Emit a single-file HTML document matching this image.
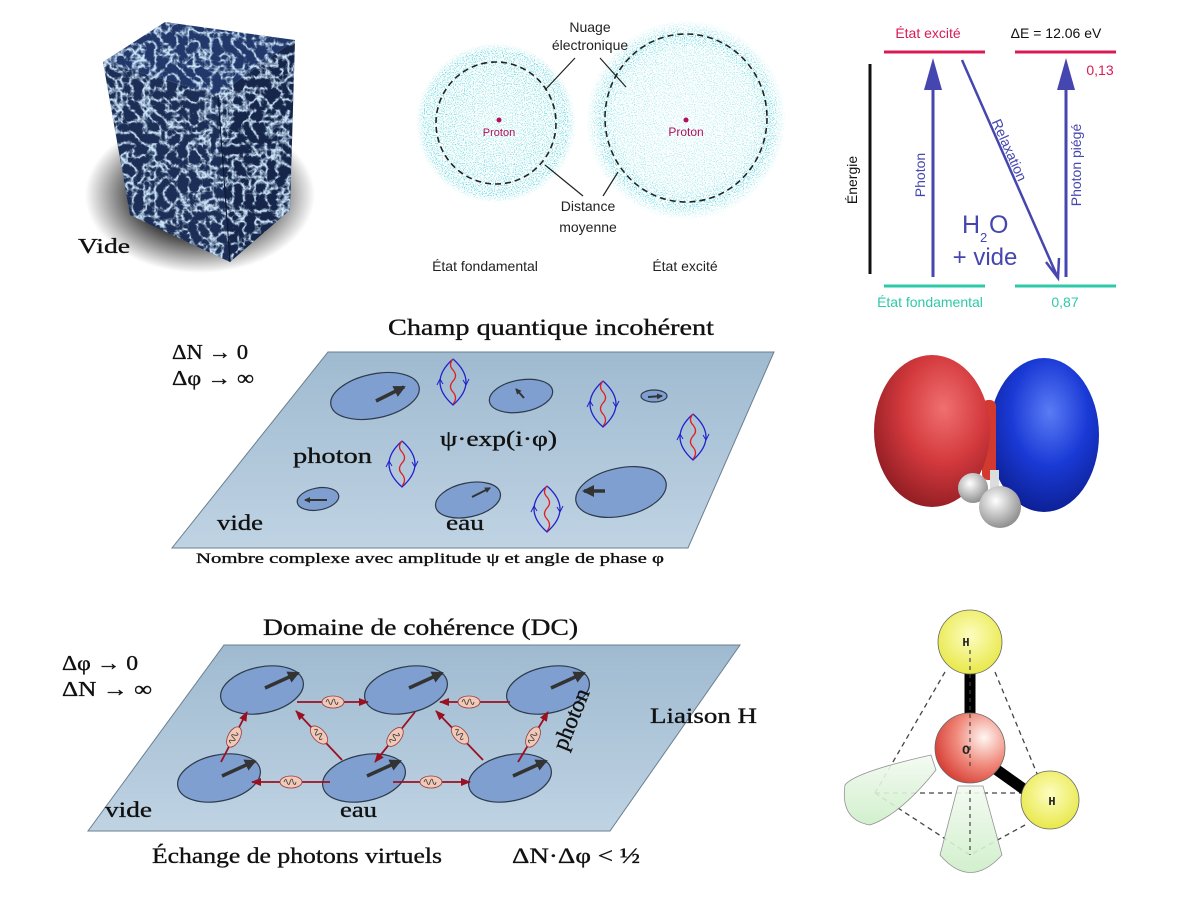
<!DOCTYPE html>
<html><head><meta charset="utf-8"><style>
html,body{margin:0;padding:0;background:#fff;}
svg{display:block;}
.s{font-family:"Liberation Serif","DejaVu Serif",serif;fill:#111;stroke:#111;stroke-width:0.35;}
.a{font-family:"Liberation Sans","DejaVu Sans",sans-serif;}
</style></head><body>
<svg width="1200" height="900" viewBox="0 0 1200 900" xmlns="http://www.w3.org/2000/svg">
<defs>
<filter id="noise" x="0" y="0" width="100%" height="100%">
 <feTurbulence type="turbulence" baseFrequency="0.09" numOctaves="3" seed="3"/>
 <feColorMatrix type="matrix" values="0 0 0 0 0.6  0 0 0 0 0.78  0 0 0 0 0.95  -4 0 0 0 1.3"/>
 <feComposite in2="SourceGraphic" operator="in"/>
</filter>
<filter id="speck" x="0" y="0" width="100%" height="100%">
 <feTurbulence type="fractalNoise" baseFrequency="0.9" numOctaves="1" seed="5"/>
 <feColorMatrix type="matrix" values="0 0 0 0 0.1  0 0 0 0 0.65  0 0 0 0 0.72  0 0 0 6 -3.0"/>
 <feComposite in2="SourceGraphic" operator="in"/>
</filter>
<radialGradient id="ringL" cx="0.5" cy="0.5" r="0.5">
 <stop offset="0" stop-color="#000" stop-opacity="0.5"/><stop offset="0.75" stop-color="#000" stop-opacity="0.8"/><stop offset="0.9" stop-color="#000" stop-opacity="0.9"/><stop offset="1" stop-color="#000" stop-opacity="0"/>
</radialGradient>
<radialGradient id="ringR" cx="0.5" cy="0.5" r="0.5">
 <stop offset="0" stop-color="#000" stop-opacity="0.35"/><stop offset="0.7" stop-color="#000" stop-opacity="0.5"/><stop offset="0.85" stop-color="#000" stop-opacity="1"/><stop offset="1" stop-color="#000" stop-opacity="0"/>
</radialGradient>
<radialGradient id="shadow" cx="0.5" cy="0.5" r="0.5">
 <stop offset="0.5" stop-color="#000"/><stop offset="1" stop-color="#000" stop-opacity="0"/>
</radialGradient>
<linearGradient id="plane" x1="0" y1="0" x2="0" y2="1">
 <stop offset="0" stop-color="#9fbad0"/><stop offset="1" stop-color="#bfd3e3"/>
</linearGradient>
<radialGradient id="red" cx="0.6" cy="0.35" r="0.7">
 <stop offset="0" stop-color="#f07070"/><stop offset="0.5" stop-color="#d43a3e"/><stop offset="1" stop-color="#8e1c22"/>
</radialGradient>
<radialGradient id="blue" cx="0.55" cy="0.35" r="0.7">
 <stop offset="0" stop-color="#5a7cf5"/><stop offset="0.5" stop-color="#1a3ad6"/><stop offset="1" stop-color="#0a1c8c"/>
</radialGradient>
<radialGradient id="white" cx="0.4" cy="0.35" r="0.7">
 <stop offset="0" stop-color="#fff"/><stop offset="1" stop-color="#888"/>
</radialGradient>
<radialGradient id="oxy" cx="0.7" cy="0.35" r="0.8">
 <stop offset="0" stop-color="#fff6f2"/><stop offset="0.5" stop-color="#f08a7c"/><stop offset="1" stop-color="#d3322a"/>
</radialGradient>
<radialGradient id="hyd" cx="0.5" cy="0.4" r="0.6">
 <stop offset="0" stop-color="#fdfdc0"/><stop offset="1" stop-color="#e8e84a"/>
</radialGradient>
<linearGradient id="cone" x1="0" y1="0" x2="0" y2="1">
 <stop offset="0" stop-color="#f4fbf2"/><stop offset="1" stop-color="#cdeec8"/>
</linearGradient>
<marker id="rh" markerWidth="10" markerHeight="8" refX="9" refY="4" orient="auto" markerUnits="userSpaceOnUse">
 <path d="M0,0 L10,4 L0,8 z" fill="#9b1020"/>
</marker>
<marker id="dh" markerWidth="12" markerHeight="12" refX="10" refY="6" orient="auto" markerUnits="userSpaceOnUse">
 <path d="M0,0 L12,6 L0,12 z" fill="#333"/>
</marker>
<marker id="sh" markerWidth="6" markerHeight="6" refX="5" refY="3" orient="auto" markerUnits="userSpaceOnUse">
 <path d="M0,0 L6,3 L0,6 z" fill="#333"/>
</marker>
<symbol id="lens" viewBox="-17 -24 34 48" overflow="visible">
 <path d="M0,-23 Q-26,0 0,23 Q26,0 0,-23" fill="none" stroke="#2222cc" stroke-width="1.3"/>
 <path d="M0,-23 q-5,6 0,11 q5,6 0,11 q-5,6 0,11 q5,6 0,12" fill="none" stroke="#e02020" stroke-width="1.3"/>
 <path d="M-13,-3 l-3,6 M-13,-3 l3,5" stroke="#2222cc" stroke-width="1" fill="none"/>
 <path d="M13,3 l-3,-5 M13,3 l3,-6" stroke="#2222cc" stroke-width="1" fill="none"/>
</symbol>
<symbol id="pho" viewBox="-11 -7 22 14" overflow="visible">
 <ellipse cx="0" cy="0" rx="11" ry="6" fill="#f0c9b8" stroke="#9b3a3a" stroke-width="0.8"/>
 <path d="M-7,0 q2,-5 3,0 q2,5 3,0 q2,-6 3,0 q2,5 3,0" fill="none" stroke="#333" stroke-width="0.8"/>
</symbol>
</defs>

<!-- Cube -->
<ellipse cx="200" cy="195" rx="115" ry="78" fill="url(#shadow)" opacity="0.85"/>
<polygon points="103,62 218,95 230,262 130,215" fill="#1c2e55"/>
<polygon points="218,95 295,40 290,210 230,262" fill="#16264a"/>
<polygon points="103,62 165,22 295,40 218,95" fill="#22386a"/>
<g filter="url(#noise)">
<polygon points="103,62 218,95 230,262 130,215" fill="#000"/>
<polygon points="218,95 295,40 290,210 230,262" fill="#000"/>
<polygon points="103,62 165,22 295,40 218,95" fill="#000"/>
</g>
<line x1="218" y1="95" x2="230" y2="262" stroke="#0c1630" stroke-width="1"/>
<text x="78" y="253" class="s" font-size="21" textLength="52" lengthAdjust="spacingAndGlyphs">Vide</text>

<!-- electron clouds -->
<g filter="url(#speck)">
<ellipse cx="496" cy="123" rx="80" ry="80" fill="url(#ringL)"/>
<ellipse cx="686" cy="120" rx="100" ry="100" fill="url(#ringR)"/>
</g>
<ellipse cx="496" cy="123" rx="60" ry="61" fill="none" stroke="#222" stroke-width="1.6" stroke-dasharray="6,4"/>
<ellipse cx="686" cy="118" rx="81" ry="84" fill="none" stroke="#222" stroke-width="1.6" stroke-dasharray="6,4"/>
<circle cx="499" cy="120" r="2.5" fill="#b0105a"/>
<circle cx="686" cy="120" r="2.5" fill="#b0105a"/>
<text x="499" y="136" class="a" font-size="11" fill="#b0105a" text-anchor="middle">Proton</text>
<text x="686" y="136" class="a" font-size="12" fill="#b0105a" text-anchor="middle">Proton</text>
<text x="590" y="32" class="a" font-size="14" fill="#222" text-anchor="middle">Nuage</text>
<text x="590" y="50" class="a" font-size="14" fill="#222" text-anchor="middle">électronique</text>
<path d="M545,90 L575,58 M600,58 L626,87" stroke="#222" stroke-width="1.2" fill="none"/>
<path d="M545,165 L583,196 M603,196 L618,172" stroke="#222" stroke-width="1.2" fill="none"/>
<text x="588" y="211" class="a" font-size="14" fill="#222" text-anchor="middle">Distance</text>
<text x="588" y="232" class="a" font-size="14" fill="#222" text-anchor="middle">moyenne</text>
<text x="485" y="271" class="a" font-size="14" fill="#222" text-anchor="middle">État fondamental</text>
<text x="685" y="271" class="a" font-size="14" fill="#222" text-anchor="middle">État excité</text>

<!-- energy diagram -->
<line x1="884" y1="52" x2="985" y2="52" stroke="#d81b55" stroke-width="3"/>
<line x1="1015" y1="52" x2="1116" y2="52" stroke="#d81b55" stroke-width="3"/>
<line x1="884" y1="286" x2="985" y2="286" stroke="#2ec9a8" stroke-width="3"/>
<line x1="1015" y1="286" x2="1116" y2="286" stroke="#2ec9a8" stroke-width="3"/>
<line x1="870" y1="64" x2="870" y2="274" stroke="#111" stroke-width="3"/>
<line x1="933" y1="277" x2="933" y2="88" stroke="#4646b0" stroke-width="3"/>
<polygon points="933,58 924,90 942,90" fill="#4646b0"/>
<line x1="1066" y1="277" x2="1066" y2="88" stroke="#4646b0" stroke-width="3"/>
<polygon points="1066,58 1057,90 1075,90" fill="#4646b0"/>
<line x1="962" y1="60" x2="1058" y2="278" stroke="#4646b0" stroke-width="2.5"/>
<path d="M1046,262 L1058,278 L1059,258" stroke="#4646b0" stroke-width="2.5" fill="none"/>
<text x="928" y="38" class="a" font-size="14" fill="#d81b55" text-anchor="middle">État excité</text>
<text x="1056" y="38" class="a" font-size="14" fill="#111" text-anchor="middle">ΔE = 12.06 eV</text>
<text x="1100" y="75" class="a" font-size="14" fill="#d81b55" text-anchor="middle">0,13</text>
<text x="930" y="307" class="a" font-size="14" fill="#2ec9a8" text-anchor="middle">État fondamental</text>
<text x="1065" y="307" class="a" font-size="14" fill="#2ec9a8" text-anchor="middle">0,87</text>
<text transform="translate(857,180) rotate(-90)" class="a" font-size="14" fill="#111" text-anchor="middle">Énergie</text>
<text transform="translate(925,175) rotate(-90)" class="a" font-size="14" fill="#4646b0" text-anchor="middle">Photon</text>
<text transform="translate(1081,165) rotate(-90)" class="a" font-size="14" fill="#4646b0" text-anchor="middle">Photon piégé</text>
<text transform="translate(1005,152) rotate(66)" class="a" font-size="14" fill="#4646b0" text-anchor="middle">Relaxation</text>
<text x="962" y="233" class="a" font-size="25" fill="#4646b0">H</text>
<text x="980" y="242" class="a" font-size="13" fill="#4646b0">2</text>
<text x="989" y="233" class="a" font-size="25" fill="#4646b0">O</text>
<text x="985" y="265" class="a" font-size="24" fill="#4646b0" text-anchor="middle">+ vide</text>

<!-- middle plane -->
<text x="388" y="335" class="s" font-size="23" textLength="326" lengthAdjust="spacingAndGlyphs">Champ quantique incohérent</text>
<text x="172" y="359" class="s" font-size="21" textLength="76" lengthAdjust="spacingAndGlyphs">ΔN → 0</text>
<text x="172" y="385" class="s" font-size="21" textLength="82" lengthAdjust="spacingAndGlyphs">Δφ → ∞</text>
<polygon points="328,352 774,352 688,548 172,548" fill="url(#plane)" stroke="#6a7f90" stroke-width="1"/>
<g fill="#7f9fd0" stroke="#2d3a4a" stroke-width="1.2">
<ellipse cx="375" cy="396" rx="45" ry="22" transform="rotate(-12 375 396)"/>
<ellipse cx="521" cy="396" rx="32" ry="16" transform="rotate(-10 521 396)"/>
<ellipse cx="654" cy="396" rx="13" ry="6"/>
<ellipse cx="318" cy="499" rx="21" ry="11" transform="rotate(-10 318 499)"/>
<ellipse cx="468" cy="500" rx="33" ry="17" transform="rotate(-12 468 500)"/>
<ellipse cx="621" cy="492" rx="46" ry="24" transform="rotate(-12 621 492)"/>
</g>
<g stroke="#333" stroke-width="3.5" marker-end="url(#dh)">
<line x1="376" y1="401" x2="404" y2="387"/>
<line x1="605" y1="491" x2="584" y2="491"/>
</g>
<g stroke="#333" stroke-width="2" marker-end="url(#sh)">
<line x1="472" y1="497" x2="490" y2="488"/>
<line x1="524" y1="398" x2="516" y2="389"/>
<line x1="327" y1="500" x2="305" y2="500"/>
<line x1="648" y1="397" x2="662" y2="396"/>
</g>
<use href="#lens" x="436" y="358" width="34" height="48"/>
<use href="#lens" x="586" y="380" width="34" height="48"/>
<use href="#lens" x="676" y="413" width="34" height="48"/>
<use href="#lens" x="385" y="440" width="34" height="48"/>
<use href="#lens" x="530" y="485" width="34" height="48"/>
<text x="293" y="463" class="s" font-size="22" textLength="79" lengthAdjust="spacingAndGlyphs">photon</text>
<text x="440" y="446" class="s" font-size="22" textLength="117" lengthAdjust="spacingAndGlyphs">ψ·exp(i·φ)</text>
<text x="217" y="530" class="s" font-size="22" textLength="46" lengthAdjust="spacingAndGlyphs">vide</text>
<text x="446" y="530" class="s" font-size="22" textLength="38" lengthAdjust="spacingAndGlyphs">eau</text>
<text x="196" y="563" class="s" font-size="15" stroke-width="0.2" textLength="468" lengthAdjust="spacingAndGlyphs">Nombre complexe avec amplitude ψ et angle de phase φ</text>

<!-- red/blue orbital -->
<ellipse cx="1044" cy="435" rx="55" ry="77" fill="url(#blue)"/>
<rect x="982" y="400" width="14" height="80" rx="6" fill="#d23a30"/>
<ellipse cx="932" cy="431" rx="58" ry="76" fill="url(#red)"/>
<circle cx="973" cy="488" r="15" fill="url(#white)"/>
<rect x="990" y="470" width="9" height="30" fill="#ddd"/>
<circle cx="1000" cy="507" r="21" fill="url(#white)"/>

<!-- bottom plane -->
<text x="263" y="635" class="s" font-size="23" textLength="315" lengthAdjust="spacingAndGlyphs">Domaine de cohérence (DC)</text>
<text x="62" y="670" class="s" font-size="21" textLength="76" lengthAdjust="spacingAndGlyphs">Δφ → 0</text>
<text x="62" y="696" class="s" font-size="21" textLength="90" lengthAdjust="spacingAndGlyphs">ΔN → ∞</text>
<polygon points="224,645 740,645 610,831 88,831" fill="url(#plane)" stroke="#6a7f90" stroke-width="1"/>
<g fill="#7f9fd0" stroke="#2d3a4a" stroke-width="1.2">
<ellipse cx="262" cy="690" rx="42" ry="23" transform="rotate(-12 262 690)"/>
<ellipse cx="406" cy="690" rx="42" ry="23" transform="rotate(-12 406 690)"/>
<ellipse cx="548" cy="690" rx="42" ry="23" transform="rotate(-12 548 690)"/>
<ellipse cx="219" cy="778" rx="42" ry="23" transform="rotate(-12 219 778)"/>
<ellipse cx="364" cy="778" rx="42" ry="23" transform="rotate(-12 364 778)"/>
<ellipse cx="510" cy="778" rx="42" ry="23" transform="rotate(-12 510 778)"/>
</g>
<g stroke="#333" stroke-width="3.5" marker-end="url(#dh)">
<line x1="265" y1="688" x2="298" y2="673"/>
<line x1="409" y1="688" x2="442" y2="673"/>
<line x1="551" y1="688" x2="584" y2="673"/>
<line x1="222" y1="776" x2="255" y2="761"/>
<line x1="367" y1="776" x2="400" y2="761"/>
<line x1="513" y1="776" x2="546" y2="761"/>
</g>
<g stroke="#9b1020" stroke-width="1.8" marker-end="url(#rh)">
<line x1="297" y1="702" x2="368" y2="702"/>
<line x1="510" y1="702" x2="440" y2="702"/>
<line x1="330" y1="782" x2="252" y2="782"/>
<line x1="393" y1="782" x2="470" y2="782"/>
<line x1="221" y1="762" x2="247" y2="712"/>
<line x1="342" y1="760" x2="296" y2="711"/>
<line x1="415" y1="712" x2="375" y2="762"/>
<line x1="483" y1="760" x2="436" y2="711"/>
<line x1="518" y1="762" x2="548" y2="712"/>
</g>
<use href="#pho" x="322" y="695" width="22" height="14"/>
<use href="#pho" x="458" y="695" width="22" height="14"/>
<use href="#pho" x="280" y="775" width="22" height="14"/>
<use href="#pho" x="420" y="775" width="22" height="14"/>
<use href="#pho" transform="rotate(-62 234 737)" x="223" y="730" width="22" height="14"/>
<use href="#pho" transform="rotate(47 319 735)" x="308" y="728" width="22" height="14"/>
<use href="#pho" transform="rotate(-52 395 737)" x="384" y="730" width="22" height="14"/>
<use href="#pho" transform="rotate(47 460 735)" x="449" y="728" width="22" height="14"/>
<use href="#pho" transform="rotate(-62 533 737)" x="522" y="730" width="22" height="14"/>
<text transform="translate(578,722) rotate(-68)" class="s" font-size="23" text-anchor="middle">photon</text>
<text x="105" y="817" class="s" font-size="22" textLength="47" lengthAdjust="spacingAndGlyphs">vide</text>
<text x="340" y="817" class="s" font-size="22" textLength="37" lengthAdjust="spacingAndGlyphs">eau</text>
<text x="650" y="723" class="s" font-size="22" textLength="107" lengthAdjust="spacingAndGlyphs">Liaison H</text>
<text x="152" y="863" class="s" font-size="22" textLength="290" lengthAdjust="spacingAndGlyphs">Échange de photons virtuels</text>
<text x="512" y="863" class="s" font-size="22" textLength="128" lengthAdjust="spacingAndGlyphs">ΔN·Δφ &lt; ½</text>

<!-- tetrahedral water -->
<g stroke="#444" stroke-width="1.3" stroke-dasharray="5,4" fill="none">
<line x1="945" y1="672" x2="875" y2="793"/>
<line x1="995" y1="672" x2="1045" y2="793"/>
<line x1="875" y1="793" x2="1040" y2="793"/>
<line x1="875" y1="793" x2="970" y2="855"/>
<line x1="1025" y1="825" x2="970" y2="855"/>
</g>
<path d="M931,755 L936,770 Q900,815 870,825 Q840,820 845,785 Q855,772 931,755 z" fill="url(#cone)" stroke="#888" stroke-width="0.8" opacity="0.9"/>
<path d="M958,786 L983,786 L1002,855 Q970,890 940,855 z" fill="url(#cone)" stroke="#888" stroke-width="0.8" opacity="0.9"/>
<line x1="970" y1="790" x2="970" y2="855" stroke="#444" stroke-width="1.2" stroke-dasharray="4,4"/>
<line x1="970" y1="670" x2="970" y2="725" stroke="#000" stroke-width="11"/>
<line x1="990" y1="765" x2="1032" y2="795" stroke="#000" stroke-width="11"/>
<circle cx="970" cy="642" r="32" fill="url(#hyd)" stroke="#666" stroke-width="0.8"/>
<circle cx="970" cy="748" r="35" fill="url(#oxy)" stroke="#666" stroke-width="0.8"/>
<circle cx="1050" cy="800" r="29" fill="url(#hyd)" stroke="#666" stroke-width="0.8"/>
<g stroke="#444" stroke-width="1.2" stroke-dasharray="4,4"><line x1="970" y1="650" x2="970" y2="770"/></g>
<text x="966" y="646" font-family="Liberation Mono, monospace" font-size="12" font-weight="bold" fill="#222" text-anchor="middle">H</text>
<text x="966" y="754" font-family="Liberation Mono, monospace" font-size="13" font-weight="bold" fill="#222" text-anchor="middle">O</text>
<text x="1052" y="805" font-family="Liberation Mono, monospace" font-size="12" font-weight="bold" fill="#222" text-anchor="middle">H</text>
</svg>
</body></html>
